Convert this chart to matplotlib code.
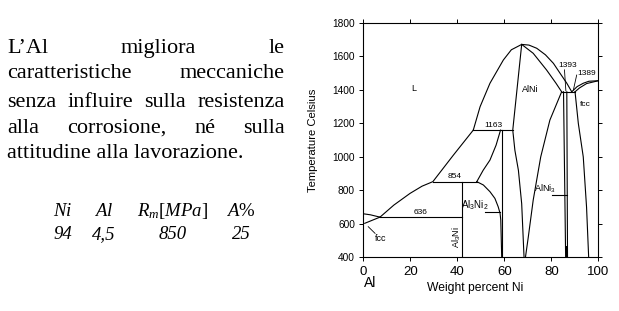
import numpy as np
import matplotlib
import matplotlib.pyplot as plt

plt.rcParams['mathtext.fontset'] = 'custom'
plt.rcParams['mathtext.it'] = 'Liberation Serif:italic'
plt.rcParams['mathtext.rm'] = 'Liberation Serif'
plt.rcParams['mathtext.sf'] = 'Liberation Sans'

################################################
### data (wt% Ni, deg C)
liq_al_x   = [0, 3, 7.1]
liq_al_T   = [660, 654, 640]
fcc_al_x   = [0.6, 7.1]
fcc_al_T   = [603, 640]
liq_low_x  = [7.1, 13, 19.9, 25, 29.6, 38.3, 46.8]
liq_low_T  = [640, 712, 782, 825, 852, 1010, 1160]
liq_dome_x = [46.8, 49.7, 53.9, 59.6, 63, 67.4, 70.5, 73.8, 77.5, 80.9, 84, 86.6, 88.7]
liq_dome_T = [1160, 1300, 1440, 1579, 1640, 1672, 1668, 1649, 1610, 1559, 1494, 1440, 1389]
sol_alni_x = [67.4, 72.3, 78, 82, 84.4]
sol_alni_T = [1672, 1619, 1519, 1440, 1389]
alni_l_x   = [67.4, 63.6, 64.5, 66, 67.4, 68.4]
alni_l_T   = [1672, 1160, 1040, 920, 720, 400]
alni_r_x   = [84.4, 79.4, 75.5, 72.3, 70.2, 69.0]
alni_r_T   = [1389, 1220, 1000, 742, 520, 400]
al3ni2_up_x  = [48.3, 51, 53.9, 56.5, 58.4]
al3ni2_up_T  = [852, 920, 981, 1070, 1160]
al3ni2_low_x = [48.3, 51.1, 53.9, 56, 57.4, 58.2, 58.5, 58.9]
al3ni2_low_T = [852, 832, 792, 752, 702, 663, 623, 400]
al3ni2_r_x = [59.0, 59.0]
al3ni2_r_T = [1160, 400]
al3ni_x    = [41.9, 41.9]
al3ni_T    = [852, 400]
alni3_l_x  = [85.2, 86.1]
alni3_l_T  = [1389, 400]
alni3_r_x  = [86.6, 86.9]
alni3_r_T  = [1389, 400]
fcc_ni_x   = [90.1, 91.5, 93.6, 95, 95.9]
fcc_ni_T   = [1389, 1200, 1000, 700, 400]
liq_ni_x   = [88.7, 91, 93.6, 96, 100]
liq_ni_T   = [1389, 1420, 1440, 1452, 1455]
sol_ni_x   = [90.1, 92, 95, 100]
sol_ni_T   = [1389, 1412, 1438, 1455]
# invariant lines: (x start, x end, T, label)
invariants = [(7.1, 41.9, 640, "636"),
              (29.6, 48.3, 852, "854"),
              (46.8, 63.6, 1160, "1163"),
              (84.4, 90.1, 1389, "")]

xticks = [0, 20, 40, 60, 80, 100]
yticks = [400, 600, 800, 1000, 1200, 1400, 1600, 1800]

left_lines = [["L\u2019Al", "migliora", "le"],
              ["caratteristiche", "meccaniche"],
              ["senza", "influire", "sulla", "resistenza"],
              ["alla", "corrosione,", "n\u00e9", "sulla"]]
last_line = "attitudine alla lavorazione."
tab_head = ["$Ni$", "$Al$", "$R_m[MPa]$", "$A\\%$"]
tab_row  = ["94", "4,5", "850", "25"]

W, H = 619, 311
def fx(px): return px / W
def fy(py): return 1 - py / H

fig = plt.figure(figsize=(6.19, 3.11), dpi=100)
fig.patch.set_facecolor("white")

################################################
### left text block, justified between x=7 and x=285 px
serif = "Liberation Serif"
fs_txt = 16
x_left, x_right = 7, 285
line_y = [53, 78.5, 107, 133]
renderer = fig.canvas.get_renderer()
for words, yb in zip(left_lines, line_y):
    texts = [fig.text(0, fy(yb), w, ha="left", va="baseline", fontsize=fs_txt, family=serif)
             for w in words]
    widths = [t.get_window_extent(renderer).width for t in texts]
    gap = (x_right - x_left - sum(widths)) / (len(words) - 1)
    xp = x_left
    for t, wd in zip(texts, widths):
        t.set_x(fx(xp))
        xp += wd + gap
fig.text(fx(x_left), fy(158), last_line, ha="left", va="baseline", fontsize=fs_txt, family=serif)

col_x = [63, 104, 173, 241]
for c, h, r in zip(col_x, tab_head, tab_row):
    fig.text(fx(c), fy(216), h, ha="center", va="baseline", fontsize=13.5)
    fig.text(fx(c), fy(239), r, ha="center", va="baseline", fontsize=13.5,
             family=serif, style="italic")

################################################
### phase diagram
ax = fig.add_axes([fx(363.3), fy(257.3), fx(598.3) - fx(363.3), fy(23) - fy(257.3)])
lw = 0.8
curves = [(liq_al_x, liq_al_T), (fcc_al_x, fcc_al_T), (liq_low_x, liq_low_T),
          (liq_dome_x, liq_dome_T), (sol_alni_x, sol_alni_T),
          (alni_l_x, alni_l_T), (alni_r_x, alni_r_T),
          (al3ni2_up_x, al3ni2_up_T), (al3ni2_low_x, al3ni2_low_T),
          (al3ni2_r_x, al3ni2_r_T), (al3ni_x, al3ni_T),
          (alni3_l_x, alni3_l_T), (alni3_r_x, alni3_r_T),
          (fcc_ni_x, fcc_ni_T), (liq_ni_x, liq_ni_T), (sol_ni_x, sol_ni_T)]
for cx, cT in curves:
    ax.plot(cx, cT, color="black", lw=lw)
for x0, x1, T, lab in invariants:
    ax.plot([x0, x1], [T, T], color="black", lw=lw)
    if lab:
        ax.text((x0 + x1) / 2, T + 8, lab, ha="center", va="bottom", fontsize=6,
                family="Liberation Sans")
ax.fill_betweenx([400, 470], 86.1, 86.9, color="black", lw=0)

sans = "Liberation Sans"
ax.text(21.3, 1410, "L", fontsize=6.5, family=sans, ha="center", va="center")
ax.text(71, 1400, "AlNi", fontsize=6.5, family=sans, ha="center", va="center")
ax.text(47.5, 712, "$\\mathsf{Al_3Ni_2}$", fontsize=7, ha="center", va="center")
ax.plot([51.8, 58.0], [672, 672], color="black", lw=lw)
ax.text(39.7, 523, "$\\mathsf{Al_3Ni}$", fontsize=6.5, rotation=90, ha="center", va="center")
ax.text(77.3, 812, "$\\mathsf{AlNi_3}$", fontsize=6.5, ha="center", va="center")
ax.plot([80.2, 86.6], [772, 772], color="black", lw=lw)
ax.text(87, 1549, "1393", fontsize=6, family=sans, ha="center", va="center")
ax.plot([85.6, 86.2], [1520, 1395], color="black", lw=0.6)
ax.text(95, 1499, "1389", fontsize=6, family=sans, ha="center", va="center")
ax.plot([90.8, 89.4], [1489, 1400], color="black", lw=0.6)
ax.text(94.3, 1315, "fcc", fontsize=6, family=sans, ha="center", va="center")
ax.text(7.5, 513, "fcc", fontsize=6.5, family=sans, ha="center", va="center")
ax.plot([2.1, 5.0], [583, 543], color="black", lw=0.6)

ax.set_xlim(0, 100)
ax.set_ylim(400, 1800)
ax.set_xticks(xticks)
ax.set_yticks(yticks)
ax.tick_params(axis="x", labelsize=9.5, length=3, width=0.7, pad=3)
ax.tick_params(axis="y", labelsize=7.3, length=3, width=0.7, pad=3)
ax.tick_params(right=True, top=True, direction="out")
for lab in ax.get_xticklabels() + ax.get_yticklabels():
    lab.set_family(sans)
for s in ax.spines.values():
    s.set_linewidth(0.8)

fig.text(fx(313), fy(140), "Temperature Celsius", rotation=90, ha="center", va="center",
         fontsize=8.1, family=sans)
fig.text(fx(475), fy(288), "Weight percent Ni", ha="center", va="center",
         fontsize=8.7, family=sans)
fig.text(fx(370), fy(283), "Al", ha="center", va="center", fontsize=10, family=sans)

plt.savefig("out.png", dpi=100)
